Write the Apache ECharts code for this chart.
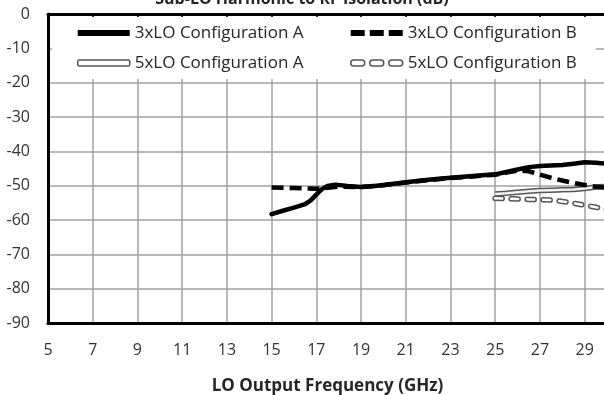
<!DOCTYPE html>
<html>
<head>
<meta charset="utf-8">
<script src="https://cdn.jsdelivr.net/npm/echarts@6/dist/echarts.min.js"></script>
<style>
  html, body { margin: 0; padding: 0; background: #fff; }
  #chart { width: 604px; height: 395px; }
</style>
</head>
<body>
<div id="chart"></div>
<script>
// tick labels on the frequency axis (GHz)
const xTicks = [5, 7, 9, 11, 13, 15, 17, 19, 21, 23, 25, 27, 29];

// 3xLO configuration A
const freq3A = [15, 15.5, 16, 16.5, 16.75, 17, 17.25, 17.5, 17.85, 18.4, 19, 19.5, 20, 21, 22, 23, 24, 25, 25.5, 26, 26.5, 27, 27.5, 28, 28.5, 29, 29.5, 30];
const iso3A = [-58.3, -57.3, -56.4, -55.4, -54.3, -52.6, -51.0, -50.1, -49.7, -50.1, -50.4, -50.2, -49.8, -49.0, -48.3, -47.7, -47.2, -46.7, -46.0, -45.3, -44.6, -44.3, -44.1, -44.0, -43.6, -43.2, -43.3, -43.6];

// 3xLO configuration B
const freq3B = [15, 16, 17, 17.5, 18, 19, 20, 21, 22, 23, 24, 25, 25.5, 26, 26.5, 27, 27.5, 28, 28.5, 29, 29.5, 30];
const iso3B = [-50.5, -50.7, -50.9, -50.6, -50.3, -50.4, -49.9, -49.1, -48.4, -47.8, -47.3, -46.8, -46.2, -45.6, -45.8, -46.8, -47.7, -48.5, -49.2, -49.8, -50.3, -50.6];

// 5xLO configurations A and B
const freq5 = [25, 25.5, 26, 26.5, 27, 27.5, 28, 28.5, 29, 29.5, 30];
const iso5A = [-52.4, -52.2, -51.9, -51.6, -51.4, -51.3, -51.2, -51.1, -50.8, -50.4, -50.2];
const iso5B = [-53.7, -53.8, -53.9, -54.0, -54.1, -54.2, -54.6, -55.1, -55.7, -56.3, -56.9];

const FONT = 'Open Sans';
const pairs = (xs, ys) => xs.map((x, i) => [x, ys[i]]);

const chart = echarts.init(document.getElementById('chart'), null, { renderer: 'canvas' });

const legendText = { fontFamily: FONT, fontSize: 17, color: '#262626', lineHeight: 20 };
const dashIcon = 'path://M0,0h14v6h-14z M19,0h14v6h-14z M38,0h14v6h-14z';
const hollowDashIcon = 'path://M3,0h8a3,3 0 0 1 0,6h-8a3,3 0 0 1 0,-6z M22,0h8a3,3 0 0 1 0,6h-8a3,3 0 0 1 0,-6z M41,0h8a3,3 0 0 1 0,6h-8a3,3 0 0 1 0,-6z';

chart.setOption({
  animation: false,
  backgroundColor: '#fff',
  title: {
    text: 'Sub-LO Harmonic to RF Isolation (dB)',
    left: 'center',
    top: -14,
    textStyle: { fontFamily: FONT, fontSize: 16, fontWeight: 'bold', color: '#262626' }
  },
  grid: { left: 48, top: 14, right: -3, bottom: 72, containLabel: false, outerBoundsMode: 'none' },
  legend: [
    {
      orient: 'vertical', left: 52, top: 17,
      padding: [6, 22, 6, 25], itemGap: 10, itemWidth: 52, itemHeight: 6,
      backgroundColor: '#fff', textStyle: legendText, selectedMode: false,
      data: [
        { name: '3xLO Configuration A', icon: 'rect', itemStyle: { color: '#000', borderWidth: 0 } },
        { name: '5xLO Configuration A', icon: 'roundRect', itemStyle: { color: '#fff', borderColor: '#555', borderWidth: 1.5 } }
      ]
    },
    {
      orient: 'vertical', left: 325, top: 17,
      padding: [6, 19, 6, 25], itemGap: 10, itemWidth: 52, itemHeight: 6,
      backgroundColor: '#fff', textStyle: legendText, selectedMode: false,
      data: [
        { name: '3xLO Configuration B', icon: dashIcon, itemStyle: { color: '#000', borderWidth: 0 } },
        { name: '5xLO Configuration B', icon: hollowDashIcon, itemStyle: { color: '#fff', borderColor: '#555', borderWidth: 1.5 } }
      ]
    }
  ],
  xAxis: [
    {
      type: 'value', position: 'bottom', min: 5, max: 30,
      axisLine: { onZero: false, lineStyle: { color: '#000', width: 3 } },
      axisTick: { show: false, customValues: xTicks },
      axisLabel: { customValues: xTicks, margin: 19, fontFamily: FONT, fontSize: 16, color: '#333' },
      splitLine: { show: true, lineStyle: { color: '#a0a0a0', width: 1.5 } },
      name: 'LO Output Frequency (GHz)', nameLocation: 'middle', nameGap: 55,
      nameTextStyle: { fontFamily: FONT, fontSize: 17, fontWeight: 'bold', color: '#262626' }
    },
    {
      type: 'value', position: 'top', min: 5, max: 30,
      axisLine: { onZero: false, lineStyle: { color: '#000', width: 3 } },
      axisTick: { show: true, inside: true, length: 4, customValues: xTicks, lineStyle: { color: '#000', width: 1.5 } },
      axisLabel: { show: false },
      splitLine: { show: false }
    }
  ],
  yAxis: {
    type: 'value', min: -90, max: 0, interval: 10,
    axisLine: { show: true, onZero: false, lineStyle: { color: '#000', width: 3 } },
    axisTick: { show: false },
    axisLabel: { margin: 18, fontFamily: FONT, fontSize: 16, color: '#333' },
    splitLine: { show: true, lineStyle: { color: '#a0a0a0', width: 1.5 } }
  },
  series: [
    {
      name: '5xLO Configuration B', type: 'line', xAxisIndex: 0, showSymbol: false, symbol: 'none',
      data: pairs(freq5, iso5B),
      lineStyle: { color: '#555', width: 5.5, type: [7, 9], cap: 'round' }
    },
    {
      name: '5xLO B inner', type: 'line', xAxisIndex: 0, showSymbol: false, symbol: 'none',
      data: pairs(freq5, iso5B),
      lineStyle: { color: '#fff', width: 2.5, type: [7, 9], cap: 'round' }
    },
    {
      name: '5xLO Configuration A', type: 'line', xAxisIndex: 0, showSymbol: false, symbol: 'none',
      data: pairs(freq5, iso5A),
      lineStyle: { color: '#555', width: 5.5 }
    },
    {
      name: '5xLO A inner', type: 'line', xAxisIndex: 0, showSymbol: false, symbol: 'none',
      data: pairs(freq5, iso5A),
      lineStyle: { color: '#f2f2f2', width: 2.5 }
    },
    {
      name: '3xLO Configuration B', type: 'line', xAxisIndex: 0, showSymbol: false, symbol: 'none',
      data: pairs(freq3B, iso3B),
      lineStyle: { color: '#000', width: 4.5, type: [12, 6] }
    },
    {
      name: '3xLO Configuration A', type: 'line', xAxisIndex: 0, showSymbol: false, symbol: 'none',
      data: pairs(freq3A, iso3A),
      lineStyle: { color: '#000', width: 4.5, cap: 'round', join: 'round' }
    }
  ]
});
</script>
</body>
</html>
